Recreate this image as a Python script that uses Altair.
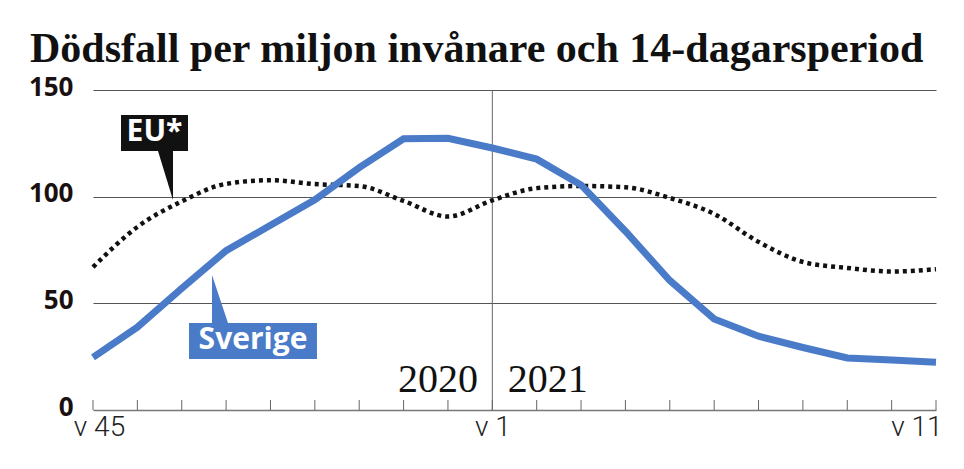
import altair as alt
import pandas as pd

# ---- data -------------------------------------------------------------
weeks = ["v45", "v46", "v47", "v48", "v49", "v50", "v51", "v52", "v53",
         "v1", "v2", "v3", "v4", "v5", "v6", "v7", "v8", "v9", "v10", "v11"]
sverige = [24.7, 38.8, 57.0, 74.7, 86.6, 98.5, 113.6, 127.1, 127.4, 122.8,
           117.6, 105.5, 83.8, 60.7, 42.7, 34.6, 29.3, 24.4, 23.4, 22.4]
eu = [67.0, 85.8, 97.8, 106.0, 107.7, 105.9, 105.0, 98.0, 90.7, 98.3,
      104.0, 105.0, 104.4, 99.4, 91.9, 78.8, 69.4, 66.6, 64.9, 66.0]
x_tick_labels = {0: "v 45", 9: "v 1", 19: "v 11"}
y_ticks = [0, 50, 100, 150]
year_labels = ["2020", "2021"]
year_boundary = 9  # index of v1

title = "Dödsfall per miljon invånare och 14-dagarsperiod"

idx = list(range(len(weeks)))
df = pd.DataFrame({"i": idx, "Sverige": sverige, "EU": eu})

BLUE = "#4a7bc8"
X = alt.Scale(domain=[0, len(weeks) - 1], nice=False, zero=False)
Y = alt.Scale(domain=[0, 150], nice=False)

label_expr = " : ".join(
    [f"datum.value == {k} ? '{v}'" for k, v in x_tick_labels.items()]) + " : ''"
last_i = len(weeks) - 1

x_axis = alt.Axis(values=idx, labelExpr=label_expr, ticks=False, grid=False,
                  domainColor="#777", domainWidth=1.5, labelFont="Roboto",
                  labelFontWeight=300, labelFontSize=28, labelColor="#222",
                  labelPadding=3, labelAngle=0, labelOverlap=False, title=None,
                  labelFlush=False,
                  labelAlign=alt.condition(f"datum.value == {last_i}", alt.value("right"),
                                           alt.value("center")),
                  labelOffset=alt.condition(f"datum.value == {last_i} || datum.value == 0",
                                            alt.value(6), alt.value(0)))
y_axis = alt.Axis(values=y_ticks, ticks=False, domain=False, grid=True,
                  gridColor=alt.condition("datum.value == 0", alt.value("transparent"), alt.value("#555")),
                  gridWidth=1, labelFont="Open Sans", labelFontWeight="bold",
                  labelFontSize=26, labelColor="#1a1010", labelPadding=20, title=None,
                  labelOffset=-3)


def xe(field):
    return alt.X(field, scale=X, title=None)


def ye(field):
    return alt.Y(field, scale=Y, title=None)


# background layer carrying the axes
axes_layer = alt.Chart(df).mark_line(opacity=0).encode(
    x=alt.X("i:Q", scale=X, axis=x_axis),
    y=alt.Y("Sverige:Q", scale=Y, axis=y_axis),
)

# tick marks pointing up
ticks = alt.Chart(pd.DataFrame({"i": idx})).mark_rule(color="#666", strokeWidth=1).encode(
    x=xe("i:Q"),
    y=alt.datum(0, scale=Y),
    y2=alt.datum(4.7),
)

# vertical divider at year change
divider = alt.Chart(pd.DataFrame({"i": [year_boundary]})).mark_rule(color="#666", strokeWidth=1).encode(
    x=xe("i:Q"),
    y=alt.datum(0, scale=Y),
    y2=alt.datum(150),
)

eu_line = alt.Chart(df).mark_line(color="#111", strokeWidth=4.5, strokeDash=[4, 4],
                                  interpolate="monotone").encode(
    x=xe("i:Q"), y=ye("EU:Q"),
)
se_line = alt.Chart(df).mark_line(color=BLUE, strokeWidth=7, strokeJoin="miter").encode(
    x=xe("i:Q"), y=ye("Sverige:Q"),
)

# year labels
years_df = pd.DataFrame({"label": year_labels, "x": [8.68, 9.35], "y": [8.4, 8.4]})
year_left = alt.Chart(years_df.iloc[[0]]).mark_text(font="Liberation Serif", fontSize=40, color="#111",
                                                   baseline="alphabetic", align="right").encode(
    x=xe("x:Q"), y=ye("y:Q"), text="label:N")
year_right = alt.Chart(years_df.iloc[[1]]).mark_text(font="Liberation Serif", fontSize=40, color="#111",
                                                    baseline="alphabetic", align="left").encode(
    x=xe("x:Q"), y=ye("y:Q"), text="label:N")


# callout boxes
def callout(label, color, box, pointer):
    bx = pd.DataFrame([box])
    rect = alt.Chart(bx).mark_rect(color=color).encode(
        x=xe("x:Q"), x2="x2:Q", y=ye("y:Q"), y2="y2:Q")
    tri = alt.Chart(pd.DataFrame(pointer)).mark_area(color=color).encode(
        x=xe("x:Q"), y=ye("y:Q"), y2="y2:Q")
    txt_df = pd.DataFrame([{"t": label, "x": (box["x"] + box["x2"]) / 2,
                            "y": (box["y"] + box["y2"]) / 2}])
    txt = alt.Chart(txt_df).mark_text(font="Open Sans", fontWeight="bold", fontSize=30,
                                      color="white", baseline="middle", align="center", dy=-1).encode(
        x=xe("x:Q"), y=ye("y:Q"), text="t:N")
    return tri + rect + txt


eu_call = callout("EU*", "#111",
                  {"x": 0.631, "x2": 2.141, "y": 121.4, "y2": 138.3},
                  [{"x": 1.465, "y": 121.4, "y2": 121.4}, {"x": 1.803, "y": 121.4, "y2": 98.4}])
se_call = callout("Sverige", BLUE,
                  {"x": 2.164, "x2": 5.048, "y": 23.9, "y2": 40.8},
                  [{"x": 2.682, "y": 40.8, "y2": 63.3}, {"x": 3.043, "y": 40.8, "y2": 40.8}])

chart = alt.layer(
    axes_layer, ticks, divider, eu_line, se_line, year_left, year_right, eu_call, se_call
).properties(
    width=843, height=320,
    autosize="none",
    background="white",
    padding={"left": 85, "top": 82, "right": 20, "bottom": 45},
    title=alt.TitleParams(title, font="Liberation Serif", fontWeight="bold", fontSize=42,
                          color="#111", anchor="start", frame="group", dx=-63, offset=3),
).configure_view(stroke=None)

chart.save("out.html", embed_options={"renderer": "svg", "actions": False})
